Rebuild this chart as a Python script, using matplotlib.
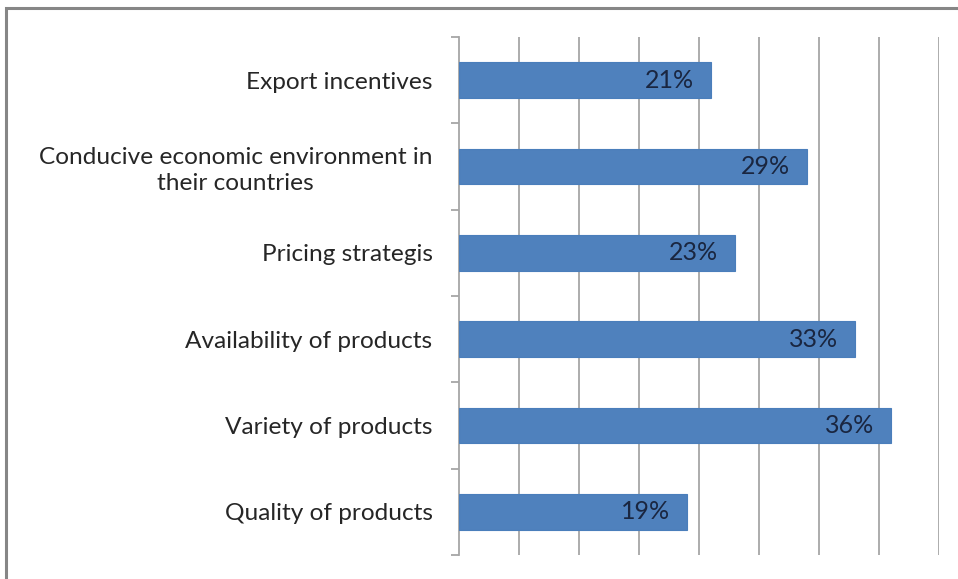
import matplotlib.pyplot as plt
from matplotlib.patches import Rectangle

categories = ['Quality of products', 'Variety of products', 'Availability of products',
              'Pricing strategis', 'Conducive economic environment in\ntheir countries',
              'Export incentives']
values = [19, 36, 33, 23, 29, 21]
value_labels = ['19%', '36%', '33%', '23%', '29%', '21%']

plt.rcParams['font.family'] = ['Lato', 'DejaVu Sans']

fig = plt.figure(figsize=(9.58, 5.79), dpi=100)
ax = fig.add_axes([459/958, 24/579, 480/958, 518/579])

pos = list(range(len(categories)))
bars = ax.barh(pos, values, height=0.41, color='#4F81BD', edgecolor='#4A7EBB', linewidth=0.8, zorder=3)

for bar, lab in zip(bars, value_labels):
    ax.text(bar.get_width() - 1.4, bar.get_y() + bar.get_height()/2, lab,
            ha='right', va='center', fontsize=18, color='#1a2640', zorder=4)

ax.set_xlim(0, 40)
ax.set_ylim(-0.5, len(categories) - 0.5)
ax.set_xticks(range(5, 41, 5))
ax.xaxis.grid(True, color='#a6a6a6', linewidth=1.3)
ax.set_axisbelow(True)
ax.tick_params(axis='x', length=0, labelbottom=False)

ax.set_yticks(pos)
ax.set_yticklabels(categories, fontsize=17.6, color='#262626', multialignment='center',
                   linespacing=1.25)
ax.set_yticks([p - 0.5 for p in pos] + [len(categories) - 0.5], minor=True)
ax.tick_params(axis='y', which='major', length=0, pad=19)
ax.tick_params(axis='y', which='minor', length=6, width=1.3, color='#a6a6a6')

for s in ['top', 'right', 'bottom']:
    ax.spines[s].set_visible(False)
ax.spines['left'].set_color('#a6a6a6')
ax.spines['left'].set_linewidth(1.3)

# outer chart border (cropped at right and bottom in the original)
fig.patches.append(Rectangle((6/958, -0.1), 1.2, 1.1 - 8/579,
                             transform=fig.transFigure, fill=False,
                             edgecolor='#868686', linewidth=2.2))

plt.savefig('out.png', dpi=100)
plt.close()
